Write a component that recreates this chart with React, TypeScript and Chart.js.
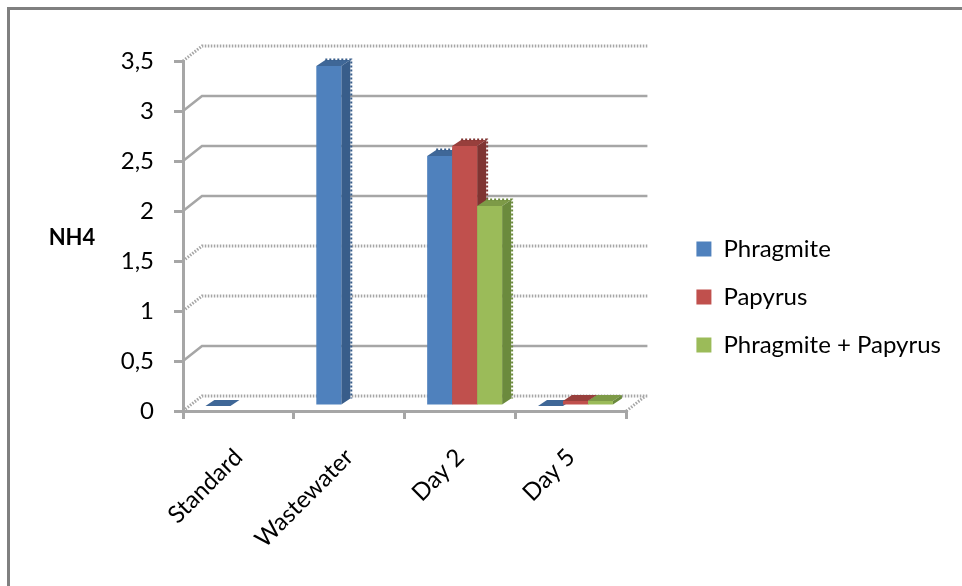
import React, { useEffect, useRef } from "react";
import { Chart, registerables } from "chart.js";

Chart.register(...registerables);

const categories = ["Standard", "Wastewater", "Day 2", "Day 5"];
const phragmite = [0, 3.4, 2.5, 0];
const papyrus = [null, null, 2.6, 0.05];
const phragmitePapyrus = [null, null, 2.0, 0.05];
const seriesNames = ["Phragmite", "Papyrus", "Phragmite + Papyrus"];
const yAxisTitle = "NH4";
const hatchedGridValues = [3.5, 1.5, 1, 0];

const frontColors = ["#4f81bd", "#c0504d", "#9bbb59"];
const sideColors = ["#385d8a", "#7f3432", "#6b8a3d"];
const topColors = ["#3f6797", "#983f3c", "#7d9a47"];
const LINE = "#a6a6a6";
const FONT = "Lato, Carlito, 'Open Sans', sans-serif";

const WALL = { dx: 19, dy: -15 };
const BAR_SHIFT = { dx: 4.5, dy: -5 };
const DEPTH = { dx: 9, dy: -6 };

const walls3d = {
  id: "walls3d",
  afterLayout(chart: any) {
    // let the rotated category labels run past the scale box without being clipped
    chart.scales.x.bottom = chart.height;
  },
  beforeDatasetsDraw(chart: any) {
    const { ctx, chartArea: a, scales } = chart;
    const y = scales.y;
    ctx.save();
    ctx.strokeStyle = LINE;
    for (const t of y.ticks) {
      const py = y.getPixelForValue(t.value);
      const hatched = hatchedGridValues.includes(t.value);
      ctx.lineWidth = hatched ? 3 : 2.5;
      ctx.setLineDash(hatched ? [1.5, 1.5] : []);
      ctx.beginPath();
      ctx.moveTo(a.left, py);
      ctx.lineTo(a.left + WALL.dx, py + WALL.dy);
      ctx.lineTo(a.right + WALL.dx + 2, py + WALL.dy);
      if (t.value === 0) {
        ctx.moveTo(a.right, py);
        ctx.lineTo(a.right + WALL.dx, py + WALL.dy);
      }
      ctx.stroke();
    }
    ctx.restore();
  },
};

const bars3d = {
  id: "bars3d",
  beforeDatasetsDraw(chart: any) {
    const { ctx } = chart;
    ctx.save();
    ctx.translate(BAR_SHIFT.dx, BAR_SHIFT.dy);
    chart.data.datasets.forEach((_: any, i: number) => {
      const meta = chart.getDatasetMeta(i);
      meta.data.forEach((el: any, j: number) => {
        const v = chart.data.datasets[i].data[j];
        if (v === null || v === undefined) return;
        const l = el.x - el.width / 2;
        const r = el.x + el.width / 2;
        const t = el.y;
        const b = el.base;
        ctx.fillStyle = topColors[i];
        ctx.beginPath();
        ctx.moveTo(l, t);
        ctx.lineTo(l + DEPTH.dx, t + DEPTH.dy);
        ctx.lineTo(r + DEPTH.dx, t + DEPTH.dy);
        ctx.lineTo(r, t);
        ctx.closePath();
        ctx.fill();
        if (b - t > 0.5) {
          ctx.fillStyle = sideColors[i];
          ctx.beginPath();
          ctx.moveTo(r, t);
          ctx.lineTo(r + DEPTH.dx, t + DEPTH.dy);
          ctx.lineTo(r + DEPTH.dx, b + DEPTH.dy);
          ctx.lineTo(r, b);
          ctx.closePath();
          ctx.fill();
          if (b - t > 10) {
            ctx.save();
            ctx.strokeStyle = sideColors[i];
            ctx.lineWidth = 2;
            ctx.setLineDash([2, 2]);
            ctx.beginPath();
            ctx.moveTo(l + DEPTH.dx, t + DEPTH.dy - 0.5);
            ctx.lineTo(r + DEPTH.dx + 1, t + DEPTH.dy - 0.5);
            ctx.lineTo(r + DEPTH.dx + 1, b + DEPTH.dy);
            ctx.stroke();
            ctx.restore();
          }
        }
      });
      meta.controller.draw();
    });
    ctx.restore();
    return false;
  },
};

const sideTitle = {
  id: "sideTitle",
  afterDraw(chart: any) {
    const { ctx } = chart;
    ctx.save();
    ctx.font = `bold 22px ${FONT}`;
    ctx.fillStyle = "#000";
    ctx.textAlign = "center";
    ctx.textBaseline = "middle";
    ctx.fillText(yAxisTitle, 72, 238);
    ctx.restore();
  },
};

export default function App() {
  const ref = useRef<HTMLCanvasElement>(null);
  useEffect(() => {
    const chart = new Chart(ref.current as HTMLCanvasElement, {
      type: "bar",
      data: {
        labels: categories,
        datasets: [phragmite, papyrus, phragmitePapyrus].map((data, i) => ({
          label: seriesNames[i],
          data,
          backgroundColor: frontColors[i],
          borderWidth: 0,
          barPercentage: 1,
          categoryPercentage: 0.676,
        })),
      } as any,
      plugins: [walls3d, bars3d, sideTitle],
      options: {
        responsive: false,
        animation: false,
        events: [],
        layout: { padding: { left: 0, top: 61, right: 11, bottom: 53 } },
        plugins: {
          tooltip: { enabled: false },
          title: { display: false },
          legend: {
            display: true,
            position: "right",
            align: "center",
            maxWidth: 300,
            labels: {
              boxWidth: 15,
              boxHeight: 15,
              padding: 24,
              color: "#000",
              font: { family: FONT, size: 24 },
            },
          },
        },
        scales: {
          x: {
            offset: true,
            afterFit(s: any) {
              s.height = 122;
            },
            border: { color: LINE, width: 3, dash: [2, 1] },
            grid: {
              display: true,
              drawOnChartArea: false,
              drawTicks: true,
              tickLength: 8,
              color: LINE,
              lineWidth: 3,
              offset: true,
            },
            ticks: {
              autoSkip: false,
              minRotation: 45,
              maxRotation: 45,
              padding: 24,
              color: "#000",
              font: { family: FONT, size: 24 },
            },
          },
          y: {
            min: 0,
            max: 3.5,
            afterFit(s: any) {
              s.width = 183;
            },
            border: { color: LINE, width: 3 },
            grid: {
              display: true,
              drawOnChartArea: false,
              drawTicks: true,
              tickLength: 9,
              color: LINE,
              lineWidth: 3,
            },
            ticks: {
              stepSize: 0.5,
              padding: 20,
              color: "#000",
              font: { family: FONT, size: 24 },
              callback: (v: any) => String(v).replace(".", ","),
            },
          },
          spacer: {
            type: "linear",
            position: "right",
            display: true,
            afterFit(s: any) {
              s.width = 46;
            },
            border: { display: false },
            grid: { display: false },
            ticks: { display: false },
          },
        },
      } as any,
    });
    return () => chart.destroy();
  }, []);

  return (
    <div style={{ position: "fixed", left: 0, top: 0, width: 962, height: 586, background: "#fff", overflow: "hidden" }}>
      <div
        style={{
          position: "absolute",
          left: 7,
          top: 7,
          right: 0,
          bottom: 0,
          borderTop: "3px solid #808080",
          borderLeft: "3px solid #808080",
        }}
      />
      <canvas ref={ref} width={962} height={586} style={{ position: "absolute", left: 0, top: 0, display: "block" }} />
    </div>
  );
}
